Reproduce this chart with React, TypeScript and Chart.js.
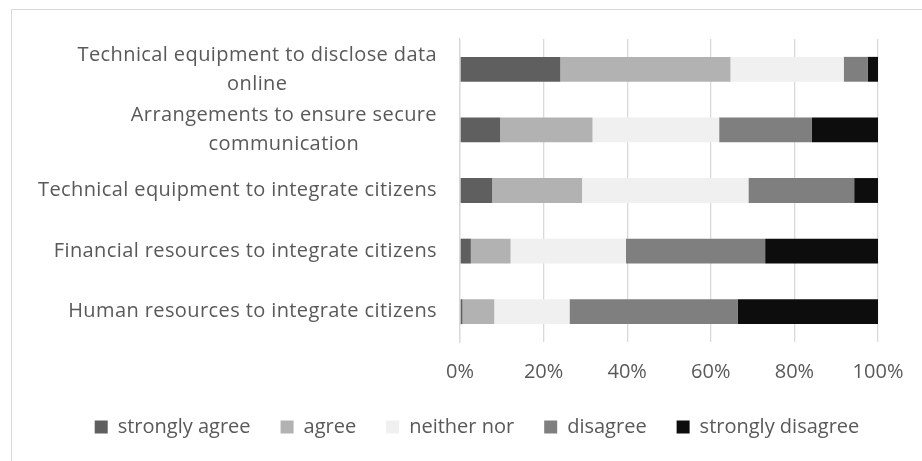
import React, { useEffect, useRef } from "react";
import { Chart, registerables } from "chart.js";

Chart.register(...registerables);

const categories: string[][] = [
  ["Technical equipment to disclose data", "online"],
  ["Arrangements to ensure secure", "communication"],
  ["Technical equipment to integrate citizens"],
  ["Financial resources to integrate citizens"],
  ["Human resources to integrate citizens"],
];

const seriesNames = ["strongly agree", "agree", "neither nor", "disagree", "strongly disagree"];
const seriesColors = ["#5f5f5f", "#b2b2b2", "#f0f0f0", "#7f7f7f", "#0d0d0d"];

const stronglyAgree = [24.0, 9.6, 7.7, 2.6, 0.6];
const agree = [40.7, 22.1, 21.5, 9.5, 7.6];
const neitherNor = [27.1, 30.3, 39.8, 27.6, 18.0];
const disagree = [5.7, 22.2, 25.3, 33.3, 40.2];
const stronglyDisagree = [2.5, 15.8, 5.7, 27.0, 33.6];

const seriesValues = [stronglyAgree, agree, neitherNor, disagree, stronglyDisagree];

const FONT = '"Open Sans", sans-serif';
const FS = 20;
const TEXT = "#595959";
const GRID = "#d9d9d9";

const yLabelPlugin = {
  id: "yLabelPlugin",
  afterDraw(chart: any) {
    const scale = chart.scales.y;
    const ctx = chart.ctx;
    ctx.save();
    ctx.font = `${FS}px ${FONT}`;
    try {
      (ctx as any).letterSpacing = "0.4px";
    } catch (e) {}
    ctx.fillStyle = TEXT;
    ctx.textBaseline = "middle";
    ctx.textAlign = "center";
    const right = chart.chartArea.left - 23;
    const lh = 29;
    (chart.data.labels as any[]).forEach((lab, i) => {
      const lines: string[] = Array.isArray(lab) ? lab : [lab];
      const y = scale.getPixelForTick(i);
      const w = Math.max(...lines.map((l) => ctx.measureText(l).width));
      const cx = right - w / 2;
      lines.forEach((l, j) => {
        ctx.fillText(l, cx, y + (j - (lines.length - 1) / 2) * lh);
      });
    });
    ctx.restore();
  },
};

export default function App() {
  const ref = useRef<HTMLCanvasElement | null>(null);

  useEffect(() => {
    if (!ref.current) return;
    const chart = new Chart(ref.current, {
      type: "bar",
      data: {
        labels: categories,
        datasets: seriesNames.map((name, i) => ({
          label: name,
          data: seriesValues[i],
          backgroundColor: seriesColors[i],
          borderWidth: 0,
          categoryPercentage: 1,
          barPercentage: 0.41,
        })),
      },
      options: {
        indexAxis: "y",
        animation: false,
        responsive: false,
        devicePixelRatio: 1,
        layout: { padding: { top: 39, right: 31, left: 63, bottom: 14 } },
        scales: {
          x: {
            type: "linear",
            stacked: true,
            min: 0,
            max: 100,
            ticks: {
              stepSize: 20,
              callback: (v: any) => `${v}%`,
              color: TEXT,
              font: { family: FONT, size: FS },
              padding: 18,
            },
            grid: { color: GRID, lineWidth: 1.3, drawTicks: false },
            border: { display: false },
            afterFit: (s: any) => {
              s.height = 45;
            },
          },
          y: {
            stacked: true,
            ticks: { display: false },
            grid: { display: false },
            border: { color: GRID, width: 1.3 },
            afterFit: (s: any) => {
              s.width = 397;
            },
          },
          yRightSpacer: {
            type: "linear",
            axis: "y",
            position: "right",
            display: true,
            ticks: { display: false },
            grid: { display: false },
            border: { display: false },
            afterFit: (s: any) => {
              s.width = 13;
            },
          },
        },
        plugins: {
          legend: {
            position: "bottom",
            labels: {
              boxWidth: 13,
              boxHeight: 13,
              color: TEXT,
              font: { family: FONT, size: FS },
              padding: 30,
            },
          },
          tooltip: { enabled: false },
        },
      },
      plugins: [yLabelPlugin],
    });
    return () => chart.destroy();
  }, []);

  return (
    <div
      style={{
        position: "absolute",
        left: 0,
        top: 0,
        width: 922,
        height: 461,
        overflow: "hidden",
        background: "#ffffff",
      }}
    >
      <div
        style={{
          position: "absolute",
          left: 11,
          top: 9,
          width: 940,
          height: 480,
          border: "1.5px solid #d9d9d9",
        }}
      />
      <canvas ref={ref} width={922} height={461} style={{ position: "absolute", left: 0, top: 0 }} />
    </div>
  );
}
